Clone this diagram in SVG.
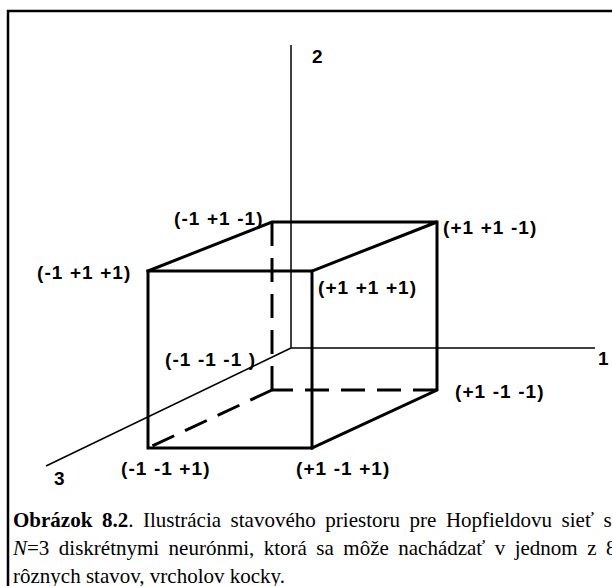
<svg xmlns="http://www.w3.org/2000/svg" width="612" height="586" viewBox="0 0 612 586">
<style>
.frame{fill:none;stroke:#000;stroke-width:2.5}
.axis{fill:none;stroke:#000;stroke-width:1.5}
.edge{fill:none;stroke:#000;stroke-width:3;stroke-linecap:square}
.hid{fill:none;stroke:#000;stroke-width:3;stroke-dasharray:24,12}
.lbl{font-family:"Liberation Sans",Arial,sans-serif;font-weight:bold;font-size:19px;letter-spacing:1.1px;fill:#000}
.cap{font-family:"Liberation Serif","Times New Roman",serif;font-size:21px;fill:#000}
</style>
<rect width="612" height="586" fill="#fff"/>
<path class="frame" d="M8,586 V11 H614"/>
<g id="axes">
<line class="axis" x1="291" y1="45" x2="291" y2="348"/>
<line class="axis" x1="291" y1="348" x2="595" y2="348"/>
<line class="axis" x1="291" y1="348" x2="46" y2="466"/>
</g>
<g id="connectors">
<line class="hid" x1="272" y1="222" x2="272" y2="390"/>
<line class="hid" x1="437" y1="390" x2="272" y2="390"/>
<line class="hid" x1="272" y1="390" x2="148" y2="448"/>
<path class="edge" d="M148,271 H312 V448 H148 Z"/>
<path class="edge" d="M148,271 L272,222 H437 L312,271"/>
<path class="edge" d="M437,222 V390 L312,448"/>
</g>
<g id="n-m1p1m1"><text class="lbl" x="174" y="225">(-1 +1 -1)</text></g>
<g id="n-p1p1m1"><text class="lbl" x="443" y="234">(+1 +1 -1)</text></g>
<g id="n-m1p1p1"><text class="lbl" x="37" y="279">(-1 +1 +1)</text></g>
<g id="n-p1p1p1"><text class="lbl" x="318" y="294">(+1 +1 +1)</text></g>
<g id="n-m1m1m1"><text class="lbl" x="165" y="366">(-1 -1 -1 )</text></g>
<g id="n-p1m1m1"><text class="lbl" x="455" y="398">(+1 -1 -1)</text></g>
<g id="n-m1m1p1"><text class="lbl" x="121" y="475">(-1 -1 +1)</text></g>
<g id="n-p1m1p1"><text class="lbl" x="296" y="475">(+1 -1 +1)</text></g>
<g id="axis-labels">
<text class="lbl" x="312" y="63">2</text>
<text class="lbl" x="598" y="365">1</text>
<text class="lbl" x="54" y="485">3</text>
</g>
<g id="caption">
<text class="cap" x="13" y="527" word-spacing="4.3"><tspan font-weight="bold">Obrázok 8.2</tspan>. Ilustrácia stavového priestoru pre Hopfieldovu sieť s</text>
<text class="cap" x="13" y="555" word-spacing="4.2"><tspan font-style="italic">N</tspan>=3 diskrétnymi neurónmi, ktorá sa môže nachádzať v jednom z 8</text>
<text class="cap" x="13" y="583">rôznych stavov, vrcholov kocky.</text>
</g>
</svg>
